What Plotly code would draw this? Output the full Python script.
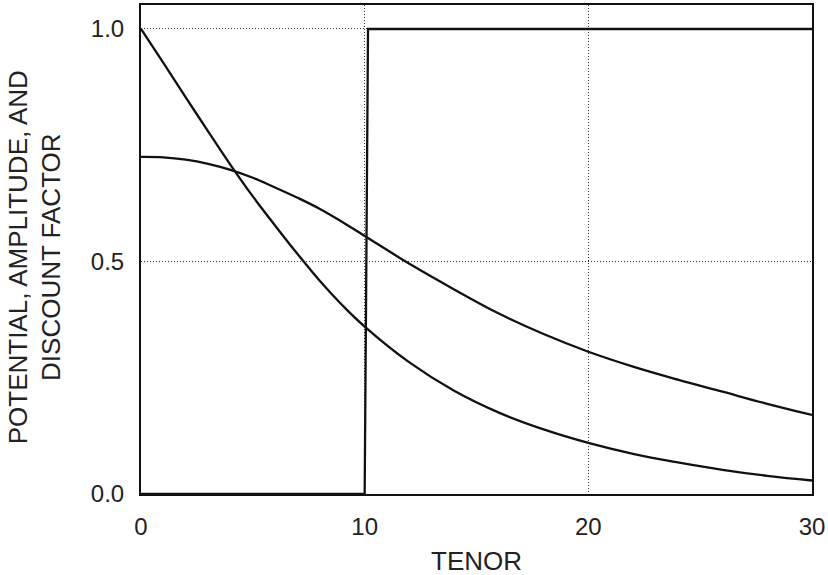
import plotly.graph_objects as go

# Tenor grid (years)
tenor = [0, 1, 2, 3, 4, 5, 6, 7, 8, 9, 10, 12, 14, 16, 18, 20, 22, 24, 26, 28, 30]
discount = [1.0, 0.927, 0.853, 0.780, 0.708, 0.640, 0.577, 0.516, 0.458, 0.406, 0.360,
            0.283, 0.222, 0.175, 0.139, 0.110, 0.0865, 0.068, 0.052, 0.039, 0.029]
amplitude = [0.725, 0.724, 0.719, 0.710, 0.697, 0.680, 0.659, 0.637, 0.613, 0.585, 0.555,
             0.495, 0.440, 0.388, 0.344, 0.306, 0.274, 0.246, 0.220, 0.194, 0.170]
potential_x = [0, 10, 10.15, 30]
potential_y = [0, 0, 1, 1]

x_ticks = [0, 10, 20, 30]
y_ticks = [0.0, 0.5, 1.0]
y_ticklabels = ["0.0", "0.5", "1.0"]

line_style = dict(color="#111111", width=2.3)
fig = go.Figure()
fig.add_trace(go.Scatter(x=tenor, y=discount, mode="lines", line=dict(line_style, shape="spline", smoothing=1.1), name="Discount factor"))
fig.add_trace(go.Scatter(x=tenor, y=amplitude, mode="lines", line=dict(line_style, shape="spline", smoothing=1.1), name="Amplitude"))
fig.add_trace(go.Scatter(x=potential_x, y=potential_y, mode="lines", line=line_style, name="Potential"))

family = "Liberation Sans, Arial, sans-serif"
font = dict(family=family, size=24, color="#222222")
title_font = dict(family=family, size=26, color="#222222")
grid = dict(showgrid=True, gridcolor="#333333", griddash="1px,2px", gridwidth=1,
            showline=True, linecolor="#111111", linewidth=2, mirror=True,
            zeroline=False, tickfont=font, automargin=False, ticks="")
fig.update_layout(
    width=828, height=575,
    margin=dict(l=141, r=16, t=5, b=81),
    plot_bgcolor="white", paper_bgcolor="white",
    showlegend=False,
    font=font,
    xaxis=dict(range=[0, 30], tickvals=x_ticks, ticklabelstandoff=10, **grid),
    yaxis=dict(range=[0, 1.0516], tickvals=y_ticks, ticktext=y_ticklabels, ticklabelstandoff=10, **grid),
    annotations=[
        dict(text="TENOR", xref="paper", yref="paper", x=0.5, y=-0.137,
             xanchor="center", yanchor="middle", showarrow=False, font=title_font),
        dict(text="POTENTIAL, AMPLITUDE, AND<br>DISCOUNT FACTOR", xref="paper", yref="paper",
             x=-0.158, y=0.484, xanchor="center", yanchor="middle", textangle=-90,
             showarrow=False, font=title_font),
    ],
)
fig.write_html("out.html", post_script="document.body.style.margin='0';",
               config={"displayModeBar": False})
